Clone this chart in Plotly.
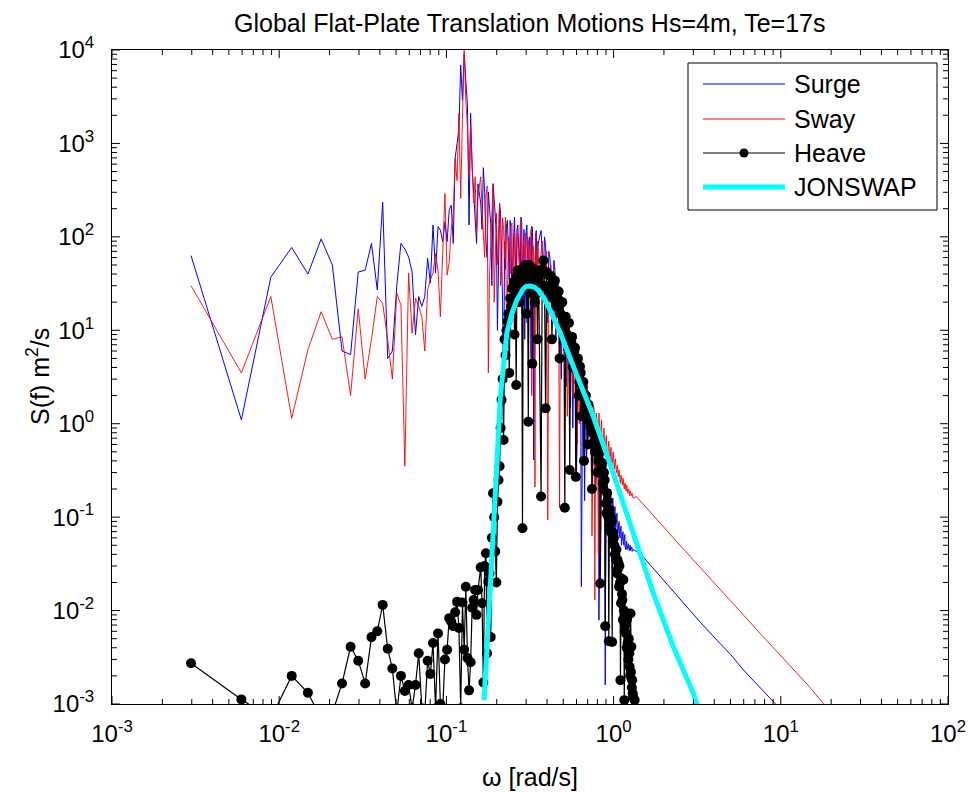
import plotly.graph_objects as go

# ---------------- data ----------------
# main frequency grid [rad/s]
omega = [0.00297, 0.00594, 0.00891, 0.01188, 0.01485, 0.01782, 0.02079, 0.02376, 0.02673, 0.0297,
         0.03267, 0.03564, 0.03861, 0.04158, 0.04455, 0.04752, 0.05049, 0.05346, 0.05643, 0.0594,
         0.06237, 0.06534, 0.06831, 0.07128, 0.07425, 0.07722, 0.08019, 0.08316, 0.08613, 0.0891,
         0.09207, 0.09504, 0.09801, 0.10098, 0.10395, 0.10692, 0.10989, 0.11286, 0.11583, 0.1188,
         0.12177, 0.12474, 0.12771, 0.13068, 0.13365, 0.13662, 0.13959, 0.14256, 0.14553, 0.1485,
         0.15147, 0.15444,
         0.1604, 0.1663, 0.1723, 0.1782, 0.1841, 0.1901, 0.1960, 0.2020, 0.2079, 0.2138,
         0.2198, 0.2257, 0.2317, 0.2376, 0.2435, 0.2495, 0.2554, 0.2614, 0.2673, 0.2732,
         0.2792, 0.2851, 0.2911, 0.2970, 0.3029, 0.3089, 0.3148, 0.3208, 0.3267, 0.3326,
         0.3386, 0.3445, 0.3505, 0.3564,
         0.3683, 0.3802, 0.3920, 0.4039, 0.4158, 0.4277, 0.4396, 0.4514, 0.4633, 0.4752,
         0.4871, 0.4990, 0.5108, 0.5227, 0.5346, 0.5465, 0.5584, 0.5702, 0.5821, 0.5940,
         0.6059, 0.6178, 0.6296, 0.6415, 0.6534, 0.6653, 0.6772, 0.6890, 0.7009, 0.7128,
         0.7277, 0.7425, 0.7574, 0.7722, 0.7871, 0.8019, 0.8168, 0.8316, 0.8465, 0.8613,
         0.8762, 0.8910, 0.9059, 0.9207, 0.9356, 0.9504, 0.9653, 0.9801, 0.9950, 1.0098,
         1.0247, 1.0395, 1.0544, 1.0692, 1.0841, 1.0989, 1.1138, 1.1286, 1.1435, 1.1583,
         1.1732, 1.1880, 1.2029, 1.2177, 1.2326, 1.2474, 1.2623, 1.2771, 1.2920, 1.3068]

surge = [63, 1.1, 37, 77, 40, 95, 50, 6, 5.5, 42,
         44, 85, 27, 234, 5, 6, 30, 85, 74, 61,
         42, 9, 23, 18, 23, 59, 32, 134, 41, 129,
         118, 89, 145, 89, 195, 218, 85, 700, 1000, 1400,
         6900, 2900, 9000, 3900, 2500, 134, 2100, 560, 316, 163,
         85, 370,
         230, 550, 90, 300, 140, 370, 160, 10, 230, 70,
         1.4, 45, 150, 35, 105, 60, 163, 25, 134, 70,
         163, 18, 120, 60, 134, 30, 100, 5, 125, 0.41,
         70, 117, 22, 90,
         117, 40, 80, 12, 60, 25, 56, 8, 23, 15,
         3, 13, 9, 2.5, 9.3, 5, 7.9, 0.9, 6, 3,
         0.8, 4.5, 2.5, 0.018, 3, 1.5, 2.2, 0.4, 1.6, 1.0,
         1.4, 0.5, 1.2, 0.7, 0.25, 0.9, 0.0079, 0.5, 0.3, 0.45,
         0.12, 0.0016, 0.25, 0.15, 0.2, 0.11, 0.14, 0.06, 0.12, 0.09,
         0.072, 0.1, 0.06, 0.08, 0.062, 0.075, 0.05, 0.065, 0.055, 0.06,
         0.048, 0.052, 0.045, 0.05, 0.046, 0.047, 0.044, 0.046, 0.043, 0.045]

sway = [30, 3.5, 23, 1.14, 6.2, 15.8, 8, 8.5, 2, 17,
        3, 8, 23, 19.5, 7.9, 3, 25, 18.6, 0.35, 41,
        9.3, 22, 18, 14, 6, 27, 35, 41, 66, 44,
        14, 60, 292, 39, 54, 120, 178, 692, 400, 2100,
        257, 1800, 11000, 2900, 1500, 440, 1570, 560, 230, 440,
        110, 270,
        440, 110, 270, 3.5, 79, 370, 93, 50, 230, 40,
        120, 163, 20, 90, 130, 30, 110, 8, 95, 50,
        150, 35, 80, 110, 12, 90, 45, 120, 25, 70,
        0.21, 60, 90, 30,
        70, 20, 55, 0.093, 40, 20, 35, 10, 25, 0.126,
        14, 18, 6, 12, 3, 9, 7, 2, 6.5, 4,
        0.6, 4.5, 3.2, 1.5, 3.5, 0.4, 2.8, 1.8, 2.2, 0.7,
        1.8, 0.063, 1.6, 0.013, 1.3, 0.9, 1.3, 0.5, 1.1, 0.7,
        0.9, 0.45, 0.75, 0.5, 0.65, 0.38, 0.56, 0.4, 0.5, 0.33,
        0.42, 0.3, 0.36, 0.27, 0.3, 0.23, 0.27, 0.22, 0.25, 0.2,
        0.23, 0.19, 0.21, 0.18, 0.2, 0.17, 0.19, 0.17, 0.18, 0.16]

heave = [0.00273, 0.00112, 0.0007, 0.002, 0.00132, 0.0007, 0.0008, 0.00166, 0.0041, 0.0029,
         0.00166, 0.0052, 0.006, 0.0115, 0.0039, 0.0024, 0.0008, 0.002, 0.00138, 0.0016,
         0.0009, 0.0016, 0.0035, 0.0009, 0.0008, 0.0029, 0.0021, 0.0045, 0.0009, 0.0057,
         0.001, 0.0009, 0.003, 0.0038, 0.0083, 0.0076, 0.0068, 0.0096, 0.0124, 0.0065,
         0.0009, 0.0122, 0.0038, 0.018, 0.0031, 0.0014, 0.0028, 0.0107, 0.013, 0.0166,
         0.009, 0.0166,
         0.029, 0.0017, 0.041, 0.0204, 0.0052, 0.18, 0.043, 0.146, 0.35, 1.8,
         0.67, 5.4, 12.4, 3.5, 18, 29, 9, 2.6, 44, 20,
         35, 0.076, 30, 50, 15, 1.05, 40, 25, 4.4, 42,
         20, 30, 8, 35,
         0.166, 56, 1.46, 39, 25, 8, 32, 20, 22, 5,
         19.5, 13, 0.126, 11.9, 8, 0.32, 7.5, 4, 6, 0.27,
         4.5, 2, 4.1, 1.2, 2.5, 0.4, 1.8, 1.5, 0.6, 1.2,
         0.93, 0.2, 0.8, 0.5, 0.7, 0.3, 0.48, 0.0195, 0.35, 0.23,
         0.3, 0.0068, 0.11, 0.15, 0.0047, 0.08, 0.1, 0.0046, 0.068, 0.05,
         0.04, 0.045, 0.035, 0.032, 0.03, 0.0018, 0.022, 0.013, 0.0214, 0.0011,
         0.0095, 0.0057, 0.008, 0.004, 0.005, 0.0025, 0.0093, 0.0041, 0.0018, 0.0012]

# intermediate bins of the dense band (interleave with the main grid)
omega_b = [0.1634, 0.1693, 0.1752, 0.1812, 0.1871, 0.1931, 0.1990, 0.2049, 0.2109, 0.2168,
           0.2228, 0.2287, 0.2346, 0.2406, 0.2465, 0.2525, 0.2584, 0.2643, 0.2703, 0.2762,
           0.2822, 0.2881, 0.2940, 0.3000, 0.3059, 0.3119, 0.3178, 0.3237, 0.3297, 0.3356,
           0.3416, 0.3475, 0.3534,
           0.3742, 0.3861, 0.3980, 0.4099, 0.4217, 0.4336, 0.4455, 0.4574, 0.4693, 0.4811,
           0.4930, 0.5049, 0.5168, 0.5287, 0.5405, 0.5524, 0.5643, 0.5762, 0.5881, 0.5999,
           0.6118, 0.6237, 0.6356, 0.6475, 0.6593, 0.6712, 0.6831, 0.6950, 0.7069,
           0.7217, 0.7366, 0.7514, 0.7663, 0.7811, 0.7960, 0.8108, 0.8257, 0.8405, 0.8554,
           0.8702, 0.8851, 0.8999, 0.9148, 0.9296, 0.9445, 0.9593, 0.9742, 0.9890, 1.0039,
           1.0187, 1.0336, 1.0484, 1.0633, 1.0781, 1.0930, 1.1078, 1.1227, 1.1375, 1.1524,
           1.1672, 1.1821, 1.1969, 1.2118, 1.2266, 1.2415, 1.2563, 1.2712, 1.2860, 1.3009]

surge_b = [120, 300, 60, 200, 30, 250, 110, 40, 180, 20,
           90, 130, 60, 150, 15, 100, 45, 120, 80, 30,
           140, 70, 8, 110, 50, 90, 40, 130, 60, 12,
           100, 50, 80,
           60, 100, 30, 70, 40, 15, 45, 20, 30, 10,
           18, 6, 12, 4, 8, 1.5, 6, 3.5, 5, 0.3,
           4, 2, 3, 1.2, 2.5, 0.15, 1.8, 1.2, 1.4,
           0.9, 0.3, 1.0, 0.6, 0.2, 0.7, 0.4, 0.05, 0.5, 0.35,
           0.25, 0.4, 0.15, 0.3, 0.18, 0.08, 0.2, 0.12, 0.16, 0.1,
           0.13, 0.08, 0.11, 0.07, 0.09, 0.06, 0.08, 0.055, 0.07, 0.05,
           0.065, 0.045, 0.055, 0.048, 0.052, 0.044, 0.05, 0.046, 0.048, 0.045]

sway_b = [200, 60, 350, 40, 150, 20, 180, 120, 30, 160,
          60, 10, 100, 40, 140, 70, 25, 110, 60, 130,
          15, 90, 60, 40, 100, 30, 75, 2, 80, 50,
          110, 20, 60,
          90, 40, 70, 25, 50, 30, 12, 35, 18, 22,
          8, 15, 10, 1.2, 11, 6, 8, 4, 5.5, 2.5,
          5, 1, 4, 3, 0.9, 3, 2, 2.5, 1.5,
          1.2, 0.8, 0.3, 1.4, 0.9, 1.1, 0.04, 0.8, 0.9, 0.5,
          0.8, 0.6, 0.7, 0.4, 0.6, 0.45, 0.5, 0.3, 0.45, 0.38,
          0.4, 0.33, 0.35, 0.28, 0.32, 0.25, 0.28, 0.24, 0.26, 0.21,
          0.23, 0.2, 0.22, 0.19, 0.2, 0.18, 0.19, 0.17, 0.18, 0.17]

heave_b = [0.012, 0.03, 0.0035, 0.025, 0.06, 0.1, 0.02, 0.25, 0.9, 3,
           8, 10, 15, 22, 28, 33, 25, 38, 40, 30,
           45, 36, 48, 28, 42, 50, 35, 47, 38, 30,
           44, 25, 38,
           45, 30, 42, 28, 38, 22, 34, 18, 26, 15,
           20, 11, 14, 9, 12, 6, 8.5, 5, 6.5, 3.8,
           5, 2.8, 3.5, 2.2, 2.8, 1.4, 2.0, 1.1, 1.6,
           1.1, 1.0, 0.8, 0.65, 0.55, 0.6, 0.4, 0.5, 0.3, 0.38,
           0.2, 0.25, 0.14, 0.18, 0.1, 0.12, 0.07, 0.09, 0.055, 0.06,
           0.04, 0.035, 0.025, 0.028, 0.018, 0.02, 0.012, 0.015, 0.008, 0.01,
           0.006, 0.007, 0.004, 0.0045, 0.003, 0.0035, 0.002, 0.0022, 0.0015, 0.0013]

# smooth high-frequency tails
omega_tail_surge = [1.44, 1.65, 1.89, 2.2, 2.73, 3.3, 4.14, 5.0, 5.98, 7.5, 9.2, 11.0]
surge_tail = [0.041, 0.031, 0.023, 0.017, 0.011, 0.0075, 0.00484, 0.0034, 0.00231, 0.0015, 0.00102, 0.0007]
omega_tail_sway = [1.37, 1.58, 1.89, 2.4, 2.99, 3.8, 4.75, 6.0, 7.52, 9.5, 11.9, 14.5, 17.9, 20.0]
sway_tail = [0.166, 0.124, 0.086, 0.054, 0.035, 0.022, 0.0141, 0.0089, 0.0057, 0.0036, 0.0023, 0.0016, 0.00102, 0.00082]
omega_tail_heave = [1.3217, 1.3365, 1.351]
heave_tail = [0.0009, 0.0011, 0.0006]

jonswap_omega = [0.168, 0.1726, 0.1806, 0.1909, 0.2002, 0.2095, 0.2193, 0.2297, 0.246, 0.2636,
                 0.287, 0.30, 0.3162, 0.335, 0.353, 0.384, 0.4168, 0.4786, 0.5743, 0.7568,
                 0.9954, 1.312, 1.727, 2.275, 2.998, 3.2]
jonswap_S = [0.0011, 0.0025, 0.013, 0.068, 0.35, 1.8, 4.1, 9.3, 15, 21,
             27.5, 29.5, 29.8, 29.0, 27, 22, 16.5, 9.5, 4.1, 1.19,
             0.295, 0.068, 0.0153, 0.0041, 0.0013, 0.0009]

series_names = ["Surge", "Sway", "Heave", "JONSWAP"]
x_decades = [-3, -2, -1, 0, 1, 2]
y_decades = [-3, -2, -1, 0, 1, 2, 3, 4]
x_tick_text = ["10<sup>-3</sup>", "10<sup>-2</sup>", "10<sup>-1</sup>", "10<sup>0</sup>", "10<sup>1</sup>", "10<sup>2</sup>"]
y_tick_text = ["10<sup>-3</sup>", "10<sup>-2</sup>", "10<sup>-1</sup>", "10<sup>0</sup>", "10<sup>1</sup>", "10<sup>2</sup>", "10<sup>3</sup>", "10<sup>4</sup>"]

title_text = "Global Flat-Plate Translation Motions Hs=4m, Te=17s"
x_title = "\u03c9 [rad/s]"
y_title = "S(f) m<sup>2</sup>/s"


def merged(*pairs):
    xs, ys = [], []
    for xa, ya in pairs:
        xs += list(xa)
        ys += list(ya)
    pts = sorted(zip(xs, ys))
    return [p[0] for p in pts], [p[1] for p in pts]


# ---------------- figure ----------------
FONT = "Liberation Sans, Arial, Helvetica, sans-serif"
fig = go.Figure()

xs, ys = merged((omega, surge), (omega_b, surge_b), (omega_tail_surge, surge_tail))
fig.add_trace(go.Scatter(x=xs, y=ys, mode="lines",
                         line=dict(color="rgb(0,0,255)", width=1), name=series_names[0]))
xs, ys = merged((omega, sway), (omega_b, sway_b), (omega_tail_sway, sway_tail))
fig.add_trace(go.Scatter(x=xs, y=ys, mode="lines",
                         line=dict(color="rgb(255,0,0)", width=0.9), name=series_names[1]))
xs, ys = merged((omega, heave), (omega_b, heave_b), (omega_tail_heave, heave_tail))
fig.add_trace(go.Scatter(x=xs, y=ys, mode="lines+markers",
                         line=dict(color="black", width=1.2),
                         marker=dict(symbol="circle", size=10, color="black"), name=series_names[2]))
fig.add_trace(go.Scatter(x=jonswap_omega, y=jonswap_S, mode="lines",
                         line=dict(color="rgb(0,255,255)", width=5), name=series_names[3]))

axis_common = dict(type="log", ticks="", showline=True, linecolor="black", linewidth=1,
                   mirror=True, showgrid=False, zeroline=False, tickmode="array",
                   tickfont=dict(size=24, family=FONT, color="black"))

fig.update_xaxes(range=[-3, 2], tickvals=[10 ** d for d in x_decades], ticktext=x_tick_text,
                 ticklabelstandoff=8, **axis_common)
fig.update_yaxes(range=[-3, 4], tickvals=[10 ** d for d in y_decades], ticktext=y_tick_text,
                 ticklabelstandoff=12, **axis_common)

# plot area: x 112..948 px, y 50..704 px
PL, PR, PT, PB = 112, 948, 50, 704
W, H = 968, 792
pw, ph = PR - PL, PB - PT


def px(xp):
    return (xp - PL) / pw


def py(yp):
    return (PB - yp) / ph


# MATLAB-style inside tick marks on all four sides (major + log minor), data-valued positions
shapes = []
TICK_MAJ, TICK_MIN = 8, 5
tick_line = dict(color="black", width=1)
for d in x_decades:
    for m in range(1, 10):
        if d == x_decades[-1] and m > 1:
            break
        pos = m * 10.0 ** d
        L = TICK_MAJ if m == 1 else TICK_MIN
        shapes.append(dict(type="line", xref="x", yref="paper", ysizemode="pixel", yanchor=0,
                           x0=pos, x1=pos, y0=0, y1=L, line=tick_line, layer="above"))
        shapes.append(dict(type="line", xref="x", yref="paper", ysizemode="pixel", yanchor=1,
                           x0=pos, x1=pos, y0=0, y1=-L, line=tick_line, layer="above"))
for d in y_decades:
    for m in range(1, 10):
        if d == y_decades[-1] and m > 1:
            break
        pos = m * 10.0 ** d
        L = TICK_MAJ if m == 1 else TICK_MIN
        shapes.append(dict(type="line", yref="y", xref="paper", xsizemode="pixel", xanchor=0,
                           y0=pos, y1=pos, x0=0, x1=L, line=tick_line, layer="above"))
        shapes.append(dict(type="line", yref="y", xref="paper", xsizemode="pixel", xanchor=1,
                           y0=pos, y1=pos, x0=0, x1=-L, line=tick_line, layer="above"))

annotations = [
    dict(text=title_text, x=0.5, y=py(23), xref="paper", yref="paper", showarrow=False,
         xanchor="center", yanchor="middle", font=dict(size=25, family=FONT, color="black")),
    dict(text=x_title, x=0.5, y=py(777), xref="paper", yref="paper", showarrow=False,
         xanchor="center", yanchor="middle", font=dict(size=25, family=FONT, color="black")),
    dict(text=y_title, x=px(38), y=0.5, xref="paper", yref="paper", showarrow=False, textangle=-90,
         xanchor="center", yanchor="middle", font=dict(size=25, family=FONT, color="black")),
]

# custom legend (MATLAB style)
shapes.append(dict(type="rect", xref="paper", yref="paper", x0=px(688), x1=px(937), y0=py(210), y1=py(63),
                   line=dict(color="black", width=1), fillcolor="white", layer="above"))
legend_rows = [84, 119, 153, 187]
legend_styles = [dict(color="rgb(0,0,255)", width=1), dict(color="rgb(255,0,0)", width=1),
                 dict(color="black", width=1.2), dict(color="rgb(0,255,255)", width=5)]
for name, yr, st in zip(series_names, legend_rows, legend_styles):
    shapes.append(dict(type="line", xref="paper", yref="paper", x0=px(703), x1=px(785),
                       y0=py(yr), y1=py(yr), line=st, layer="above"))
    annotations.append(dict(text=name, x=px(792), y=py(yr), xref="paper", yref="paper", showarrow=False,
                            xanchor="left", yanchor="middle",
                            font=dict(size=25, family=FONT, color="black")))
shapes.append(dict(type="circle", xref="paper", yref="paper", xsizemode="pixel", ysizemode="pixel",
                   xanchor=px(744), yanchor=py(legend_rows[2]), x0=-4.5, x1=4.5, y0=-4.5, y1=4.5,
                   fillcolor="black", line=dict(color="black", width=0), layer="above"))

fig.update_layout(width=W, height=H, margin=dict(l=PL, r=W - PR, t=PT, b=H - PB, autoexpand=False),
                  paper_bgcolor="white", plot_bgcolor="white", showlegend=False,
                  font=dict(family=FONT, color="black"),
                  annotations=annotations, shapes=shapes)

fig.write_html("out.html")
